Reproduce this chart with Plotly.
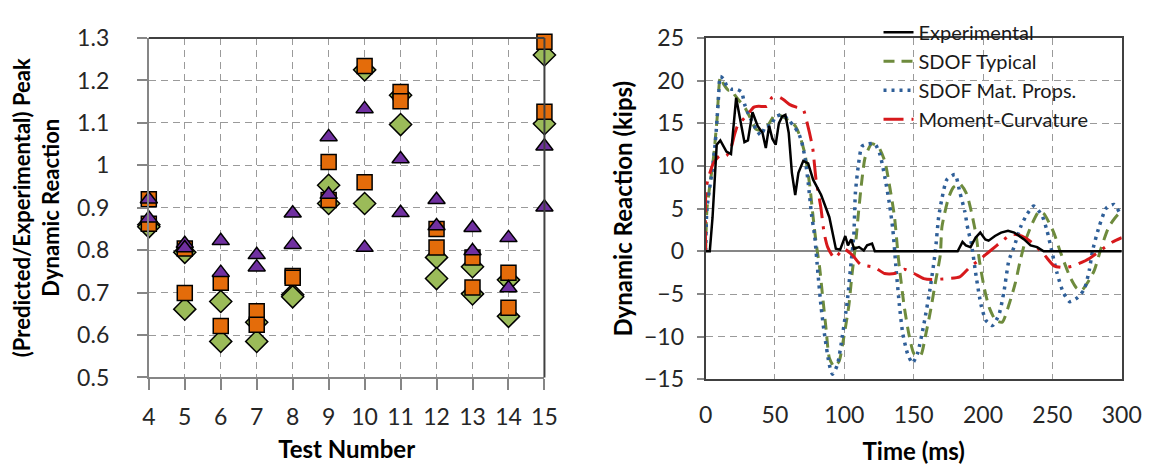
import plotly.graph_objects as go

# ---------------- Left chart data ----------------
tests = [4, 5, 6, 7, 8, 9, 10, 11, 12, 13, 14, 15]
sq_a = [0.920, 0.804, 0.723, 0.656, 0.739, 1.008, 1.234, 1.173, 0.850, 0.783, 0.747, 1.291]
sq_b = [0.862, 0.699, 0.621, 0.624, 0.735, 0.918, 0.960, 1.151, 0.806, 0.712, 0.664, 1.126]
dia_a = [0.860, 0.795, 0.679, 0.630, 0.695, 0.953, 1.225, 1.165, 0.783, 0.761, 0.730, 1.260]
dia_b = [0.855, 0.661, 0.585, 0.585, 0.690, 0.910, 0.910, 1.096, 0.733, 0.697, 0.644, 1.098]
tri_a = [0.920, 0.815, 0.822, 0.789, 0.887, 1.067, 1.133, 1.015, 0.919, 0.853, 0.829, 1.045]
tri_b = [0.875, 0.805, 0.747, 0.760, 0.813, 0.931, 0.806, 0.888, 0.857, 0.798, 0.711, 0.901]
left_yticks = [0.5, 0.6, 0.7, 0.8, 0.9, 1.0, 1.1, 1.2, 1.3]
left_yticktext = ["0.5", "0.6", "0.7", "0.8", "0.9", "1", "1.1", "1.2", "1.3"]

# ---------------- Right chart data ----------------
t_exp = [0, 3, 5, 8, 10.6, 15, 18.3, 22, 25.8, 28, 30.5, 33.8, 37.5, 41, 43.4, 45.8, 48.1, 50.5,
         52.8, 55.2, 57.5, 59.9, 62.2, 64.6, 66.9, 70.4, 73.9, 77.5, 83.3, 89.2, 93.9, 97, 100.7,
         102.6, 105, 107, 110.6, 114, 116.4, 120, 122, 150, 181.7, 185.2, 187.6, 191, 194.6, 198,
         201.6, 204, 208.6, 213, 218, 222.5, 229.6, 234.3, 239, 243.7, 270, 300]
v_exp = [0, 0, 4.0, 12.5, 13.0, 11.7, 11.4, 18.0, 14.7, 12.8, 13.0, 16.3, 14.7, 13.9, 12.1, 14.7,
         13.2, 12.5, 15.0, 15.8, 16.0, 13.9, 9.2, 6.6, 9.2, 10.6, 10.3, 8.4, 6.6, 4.0, 0.3, 0.2, 1.8,
         0.7, 1.4, 0.3, 0.5, 0.1, 0.7, 0.9, 0, 0, 0, 1.1, 0.7, 0.5, 1.6, 2.2, 1.4, 1.25, 1.8, 2.2,
         2.4, 2.2, 1.4, 0.7, 0.5, 0, 0, 0]

t_typ = [0, 1, 5.7, 8.2, 10.6, 13, 16.4, 18.8, 21.1, 25, 28.5, 31.7, 36.4, 40, 45, 50.5, 55.2, 60,
         64.6, 68, 71.6, 75.1, 77.5, 79.8, 82.2, 84.5, 86.9, 89.2, 92.7, 96.2, 99.8, 103.3, 105.6,
         108, 110.3, 112.7, 115, 119.7, 124.4, 129.1, 132.6, 136.2, 138.5, 139.7, 143.3, 146.8,
         150.3, 155, 158.5, 162.1, 165.6, 169.2, 170.4, 175, 178.6, 183.3, 188, 191.5, 195.1, 197.4,
         201, 204.5, 209.2, 213.9, 218.6, 223.3, 226.8, 230.3, 234.5, 240.4, 243.9, 251, 255.6,
         262.7, 267.4, 271, 276.8, 280.3, 285, 290.8, 297.9, 300]
v_typ = [0, 5.0, 11.0, 15.4, 20.4, 19.6, 18.9, 18.9, 18.3, 17.5, 16.8, 15.8, 14.3, 14.2, 14.8, 16.1,
         15.8, 15.3, 14.7, 13.5, 11.4, 7.7, 4.0, 0.8, -1.9, -5.5, -9.2, -12.5, -13.5, -12.9, -9.9,
         -6.3, -2.6, 0.7, 4.7, 8.4, 11.0, 12.6, 12.3, 10.6, 7.7, 4.0, 0, -1.9, -6.6, -9.9, -12.0,
         -12.2, -9.9, -7.0, -3.7, -0.4, 2.9, 6.2, 7.5, 7.9, 6.8, 4.7, 1.8, -1.1, -4.4, -6.6, -8.1,
         -8.3, -6.3, -3.7, -1.1, 1.1, 2.9, 4.7, 4.4, 2.2, 0, -3.0, -4.3, -4.6, -3.3, -2.2, 0.3, 2.9,
         4.4, 4.4]

t_mat = [0, 1, 4.5, 7, 8.2, 9.4, 10.6, 13, 15.3, 18.8, 22.3, 25.8, 28.2, 31.7, 36.4, 39.9, 43.4,
         46.9, 50.5, 55.2, 59.9, 63.4, 66.9, 69.3, 71.6, 74, 76.3, 78.6, 81, 83.3, 85.6, 89.2, 91.5,
         95, 98.6, 102.1, 104.5, 106.8, 108, 110.3, 112.7, 117.4, 122, 125.6, 129.1, 132.6, 135,
         137.4, 139.7, 142.1, 145.6, 149.1, 152.7, 157.4, 162.1, 165.6, 168, 170.4, 173.9, 179.8,
         183.3, 186.8, 189.2, 191.5, 195.1, 198.6, 202.1, 206.8, 211.5, 215, 218.6, 222.3, 227.2,
         231.9, 236.6, 242.5, 246, 249.6, 253.1, 257.8, 262.5, 268.4, 273.1, 276.6, 279, 283.7,
         289, 294.4, 299, 300]
v_mat = [0, 5.1, 9.2, 12.8, 15.4, 18.3, 20.5, 20.2, 19.4, 19.0, 19.0, 18.7, 17.2, 15.8, 14.3, 13.6,
         14.7, 14.7, 15.8, 16.0, 15.4, 14.7, 13.9, 12.8, 11.0, 8.0, 4.4, 1.8, -2.6, -6.6, -9.6,
         -13.3, -14.4, -13.3, -9.9, -5.9, -1.9, 1.8, 6.9, 10.3, 12.3, 12.6, 12.6, 11.4, 8.8, 5.5,
         2.5, -2.2, -6.3, -9.6, -12.0, -13.1, -12.0, -8.5, -4.1, 0, 4.0, 6.2, 8.4, 9.0, 6.9, 4.7,
         2.5, 1.0, -3.0, -6.3, -8.1, -8.7, -7.4, -4.8, -1.1, 0.5, 2.9, 4.4, 5.3, 4.2, 2.5, 0, -2.4,
         -4.8, -5.9, -5.4, -4.4, -2.2, 0.1, 2.9, 5.1, 5.5, 4.4, 4.2]

t_mc = [0, 0.5, 5.5, 10.1, 15, 18.3, 20.7, 23, 30.1, 34.8, 38.3, 44.2, 47.7, 51.2, 56, 60.7, 65.4,
        70.1, 73.7, 77.2, 79.6, 83.1, 85.4, 88, 93, 99.5, 105.6, 111.5, 122, 129, 136.2, 143.3,
        150.3, 157.3, 163.2, 173.8, 183.2, 190.2, 197.3, 205.5, 213.7, 220.7, 227.7, 234.7, 244.1,
        251.2, 258.2, 265.3, 277, 286.4, 293.4, 300]
v_mc = [0, 7.5, 10.3, 11.2, 11.2, 12.1, 13.6, 14.7, 16.0, 16.9, 17.0, 17.0, 18.0, 18.2, 17.8, 17.2,
        16.9, 16.7, 14.7, 12.1, 8.4, 5.1, 2.2, 0.5, -0.8, 0.3, -0.4, -1.5, -1.9, -2.6, -2.6, -2.1,
        -2.6, -3.2, -3.3, -3.2, -3.0, -1.9, -1.0, 0.1, 1.2, 2.0, 1.8, 1.1, -0.4, -1.7, -1.9, -1.7,
        -0.8, 0.3, 1.1, 1.6]

right_xticks = [0, 50, 100, 150, 200, 250, 300]
right_yticks = [-15, -10, -5, 0, 5, 10, 15, 20, 25]

FONT = "Lato"
TXT = "#262626"
GRID = "#9a9a9a"
BORDER = "#404040"

fig = go.Figure()

# ---- left scatter ----
def add_markers(ya, yb, symbol, color, size):
    fig.add_trace(go.Scatter(
        x=tests + tests, y=ya + yb, mode="markers", cliponaxis=False,
        marker=dict(symbol=symbol, color=color, size=size,
                    line=dict(color="black", width=1.5)),
        xaxis="x", yaxis="y", showlegend=False))

add_markers(dia_a, dia_b, "diamond", "#9BBB59", 17)
add_markers(sq_a, sq_b, "square", "#E46C0A", 15)
add_markers(tri_a, tri_b, "triangle-up", "#7030A0", 15)

# ---- right lines ----
fig.add_trace(go.Scatter(x=t_typ, y=v_typ, mode="lines", name="SDOF Typical",
                         line=dict(color="#6E8B3D", width=3, dash="11px,7px", shape="spline", smoothing=0.6),
                         xaxis="x2", yaxis="y2", legendrank=2))
fig.add_trace(go.Scatter(x=t_mat, y=v_mat, mode="lines", name="SDOF Mat. Props.",
                         line=dict(color="#2F5F98", width=3.5, dash="3px,5px", shape="spline", smoothing=0.6),
                         xaxis="x2", yaxis="y2", legendrank=3))
fig.add_trace(go.Scatter(x=t_mc, y=v_mc, mode="lines", name="Moment-Curvature",
                         line=dict(color="#D7191C", width=3, dash="20px,8px,3px,8px", shape="spline", smoothing=0.6),
                         xaxis="x2", yaxis="y2", legendrank=4))
fig.add_trace(go.Scatter(x=t_exp, y=v_exp, mode="lines", name="Experimental",
                         line=dict(color="black", width=2.5),
                         xaxis="x2", yaxis="y2", legendrank=1))

W, H = 1165, 468
tickfont = dict(family=FONT, size=23, color=TXT)
titlefont = dict(family=FONT, size=24, color="black", weight="bold")

fig.update_layout(
    width=W, height=H,
    margin=dict(l=0, r=0, t=0, b=0),
    paper_bgcolor="white", plot_bgcolor="white",
    font=dict(family=FONT, color=TXT),
    xaxis=dict(domain=[137 / W, 542 / W], range=[4, 15], tickvals=tests, anchor="y",
               ticks="outside", ticklen=11, tickcolor="#868686", tickwidth=1.5,
               showline=True, linecolor="#868686", linewidth=2,
               showgrid=True, gridcolor=GRID, griddash="7px,5px", gridwidth=1,
               zeroline=False, tickfont=tickfont, ticklabelstandoff=7,
               title=dict(text="Test Number", font=titlefont, standoff=12)),
    yaxis=dict(domain=[1 - 377 / H, 1 - 16 / H], range=[0.5, 1.3], anchor="x",
               tickvals=left_yticks, ticktext=left_yticktext,
               ticks="outside", ticklen=10, tickcolor="#868686", tickwidth=1.5,
               showline=True, linecolor="#868686", linewidth=2,
               showgrid=True, gridcolor=GRID, griddash="7px,5px", gridwidth=1,
               zeroline=False, tickfont=tickfont, ticklabelstandoff=23,
               title=dict(text="(Predicted/Experimental) Peak<br>Dynamic Reaction",
                          font=dict(family=FONT, size=22, color="black", weight="bold"), standoff=14)),
    xaxis2=dict(domain=[707 / W, 1133 / W], range=[0, 300], tickvals=right_xticks, anchor="y2",
                ticks="", showline=True, mirror=True, linecolor=BORDER, linewidth=2,
                showgrid=True, gridcolor=GRID, griddash="7px,5px", gridwidth=1,
                zeroline=False, tickfont=tickfont, ticklabelstandoff=14,
                title=dict(text="Time (ms)", font=titlefont, standoff=16)),
    yaxis2=dict(domain=[1 - 379 / H, 1 - 16 / H], range=[-15, 25], tickvals=right_yticks, anchor="x2",
                ticks="outside", ticklen=7, tickcolor="#868686", tickwidth=1.5,
                showline=True, mirror=True, linecolor=BORDER, linewidth=2,
                showgrid=True, gridcolor=GRID, griddash="7px,5px", gridwidth=1,
                zeroline=True, zerolinecolor="#868686", zerolinewidth=2,
                tickfont=tickfont, ticklabelstandoff=8,
                title=dict(text="Dynamic Reaction (kips)", font=titlefont, standoff=5)),
    legend=dict(x=884 / W, y=1 + 11 / H, xanchor="left", yanchor="top",
                bgcolor="rgba(0,0,0,0)", font=dict(family=FONT, size=20, color="#1a1a1a"),
                tracegroupgap=0, itemwidth=30),
    shapes=[
        dict(type="line", xref="x domain", yref="y domain", x0=0, x1=1, y0=1, y1=1,
             line=dict(color=BORDER, width=2)),
        dict(type="line", xref="x domain", yref="y domain", x0=1, x1=1, y0=0, y1=1,
             line=dict(color=BORDER, width=2)),
    ],
)

fig.write_html("out.html")
